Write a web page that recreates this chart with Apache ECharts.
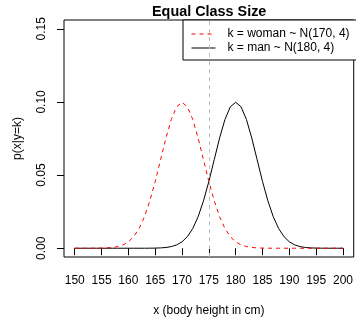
<!DOCTYPE html>
<html>
<head>
<meta charset="utf-8">
<script src="https://cdn.jsdelivr.net/npm/echarts@6/dist/echarts.min.js"></script>
<style>
  html, body { margin: 0; padding: 0; background: #fff; }
  #chart { width: 356px; height: 322px; }
</style>
</head>
<body>
<div id="chart"></div>
<script>
// body height grid (cm)
const heights = [150, 151, 152, 153, 154, 155, 156, 157, 158, 159, 160, 161, 162, 163, 164, 165, 166, 167, 168, 169,
    170, 171, 172, 173, 174, 175, 176, 177, 178, 179, 180, 181, 182, 183, 184, 185, 186, 187, 188, 189,
    190, 191, 192, 193, 194, 195, 196, 197, 198, 199, 200];

// p(x | woman)
const womanDensity = [0, 0, 0, 0, 0.00003, 0.00009, 0.00022, 0.00051, 0.00111, 0.00227, 0.00438, 0.00794, 0.0135, 0.02157,
    0.03238, 0.04566, 0.06049, 0.07529, 0.08802, 0.09667, 0.09974, 0.09667, 0.08802, 0.07529, 0.06049, 0.04566,
    0.03238, 0.02157, 0.0135, 0.00794, 0.00438, 0.00227, 0.00111, 0.00051, 0.00022, 0.00009, 0.00003, 0, 0, 0,
    0, 0, 0, 0, 0, 0, 0, 0, 0, 0, 0];

// p(x | man)
const manDensity = [0, 0, 0, 0, 0, 0, 0, 0, 0, 0, 0, 0, 0, 0, 0.00003, 0.00009, 0.00022, 0.00051, 0.00111, 0.00227,
    0.00438, 0.00794, 0.0135, 0.02157, 0.03238, 0.04566, 0.06049, 0.07529, 0.08802, 0.09667, 0.09974, 0.09667,
    0.08802, 0.07529, 0.06049, 0.04566, 0.03238, 0.02157, 0.0135, 0.00794, 0.00438, 0.00227, 0.00111, 0.00051,
    0.00022, 0.00009, 0.00003, 0, 0, 0, 0];

const xTicks = [150, 155, 160, 165, 170, 175, 180, 185, 190, 195, 200];
const yTicks = [0, 0.05, 0.1, 0.15];
const boundary = 175;
const legendNames = ['k = woman ~ N(170, 4)', 'k = man ~ N(180, 4)'];

const font = "'Liberation Sans', Arial, Helvetica, sans-serif";
const myChart = echarts.init(document.getElementById('chart'));

myChart.setOption({
    animation: false,
    title: {
        text: 'Equal Class Size',
        left: 152,
        top: 5,
        padding: 0,
        textStyle: { fontFamily: font, fontSize: 14.4, fontWeight: 'bold', color: '#000' },
    },
    legend: {
        orient: 'vertical',
        left: 183,
        top: 20,
        padding: [8, 10, 6, 8],
        itemWidth: 24,
        itemHeight: 14,
        itemGap: 2,
        backgroundColor: '#fff',
        borderColor: '#000',
        borderWidth: 1,
        borderRadius: 0,
        itemStyle: { opacity: 0 },
        lineStyle: { width: 1 },
        data: legendNames,
        textStyle: { fontFamily: font, fontSize: 12, color: '#000', padding: [0, 0, 0, 7] },
    },
    grid: {
        left: 64,
        top: 20,
        right: 0,
        bottom: 59,
        show: true,
        borderColor: '#000',
        borderWidth: 1,
        backgroundColor: 'transparent',
    },
    xAxis: {
        type: 'value',
        min: 148,
        max: 202,
        name: 'x (body height in cm)',
        nameLocation: 'middle',
        nameGap: 48,
        nameTextStyle: { fontFamily: font, fontSize: 12, color: '#000' },
        axisLine: { show: false },
        splitLine: { show: false },
        axisTick: { show: true, inside: false, length: 7, customValues: xTicks, lineStyle: { color: '#000' } },
        axisLabel: { customValues: xTicks, margin: 18, fontFamily: font, fontSize: 12, color: '#000' },
    },
    yAxis: {
        type: 'value',
        min: -0.006,
        max: 0.156,
        name: 'p(x|y=k)',
        nameLocation: 'middle',
        nameGap: 40,
        nameRotate: 90,
        nameTextStyle: { fontFamily: font, fontSize: 12, color: '#000' },
        axisLine: { show: false },
        splitLine: { show: false },
        axisTick: { show: true, inside: false, length: 7, customValues: yTicks, lineStyle: { color: '#000' } },
        axisLabel: {
            customValues: yTicks,
            rotate: 90,
            margin: 16,
            fontFamily: font,
            fontSize: 12,
            color: '#000',
            formatter: v => v.toFixed(2),
        },
    },
    series: [
        {
            name: legendNames[0],
            type: 'line',
            symbol: 'none',
            color: '#ff0000',
            lineStyle: { color: '#ff0000', width: 1, type: [4, 4] },
            data: heights.map((h, i) => [h, womanDensity[i]]),
            markLine: {
                silent: true,
                symbol: 'none',
                label: { show: false },
                lineStyle: { color: '#bebebe', width: 1, type: [4, 4] },
                data: [{ xAxis: boundary }],
            },
            z: 3,
        },
        {
            name: legendNames[1],
            type: 'line',
            symbol: 'none',
            color: '#000',
            lineStyle: { color: '#000', width: 1 },
            data: heights.map((h, i) => [h, manDensity[i]]),
            z: 2,
        },
    ],
});
</script>
</body>
</html>
